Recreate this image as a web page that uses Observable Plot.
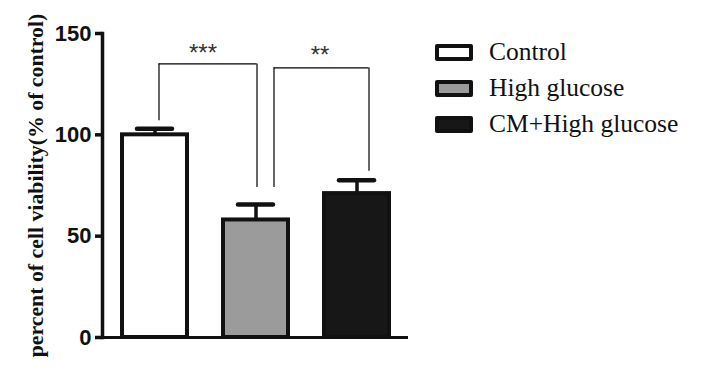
<!DOCTYPE html>
<html>
<head>
<meta charset="utf-8">
<script src="https://cdn.jsdelivr.net/npm/d3@7"></script>
<script src="https://cdn.jsdelivr.net/npm/@observablehq/plot@0.6"></script>
<style>
  html, body { margin: 0; padding: 0; background: #fff; }
  #wrap { position: relative; width: 701px; height: 380px; }
  #legend { position: absolute; left: 435px; top: 34px; font-family: "Liberation Serif", "Times New Roman", serif; font-size: 25.5px; color: #111; }
  .row { display: flex; align-items: center; height: 36px; }
  .sw { width: 38px; height: 17px; box-sizing: border-box; border: 4px solid #111; border-radius: 2px; margin-right: 16px; }
</style>
</head>
<body>
<div id="wrap"><div id="chart"></div><div id="legend"></div></div>
<script>
const groups = ["Control", "High glucose", "CM+High glucose"];
const means = [100, 58, 71];
const errors = [3, 7.6, 6.6];
const colors = ["#ffffff", "#9b9b9b", "#171717"];
const yTicks = [0, 50, 100, 150];
const yLabel = "percent of cell viability(% of control)";
const bracketFrom = ["Control", "High glucose"];
const bracketTo = ["High glucose", "CM+High glucose"];
const bracketTop = [135, 133];
const bracketLeftBottom = [107, 74];
const bracketRightBottom = [74, 82];
const bracketLabels = ["***", "**"];
const bracketLabelY = [140, 139];

// style-only offsets (pixels) for bracket ends and labels
const bracketStyle = [
  {left: 4, right: 1, label: 48},
  {left: 18, right: 12, label: 64}
];

const data = groups.map((g, i) => ({group: g, mean: means[i], err: errors[i], top: means[i] + errors[i]}));
const brackets = bracketFrom.map((f, i) => ({from: f, to: bracketTo[i], top: bracketTop[i], lb: bracketLeftBottom[i], rb: bracketRightBottom[i], label: bracketLabels[i], ly: bracketLabelY[i]}));

const bw = 65; // approx bandwidth for inset computations
const bracketMarks = brackets.flatMap((b, i) => {
  const s = bracketStyle[i];
  return [
    Plot.ruleX([b], {x: "from", y1: "lb", y2: "top", dx: s.left, stroke: "#000", strokeWidth: 1.2}),
    Plot.ruleX([b], {x: "to", y1: "rb", y2: "top", dx: s.right, stroke: "#000", strokeWidth: 1.2}),
    Plot.ruleY([b], {x1: "from", x2: "to", y: "top", insetLeft: bw / 2 + s.left, insetRight: bw / 2 - s.right, stroke: "#000", strokeWidth: 1.2}),
    Plot.text([b], {x: "from", y: "ly", text: "label", dx: s.label, fontSize: 24, fontFamily: "Liberation Sans, Arial, sans-serif", fill: "#333", lineAnchor: "middle"})
  ];
});

const plot = Plot.plot({
  width: 701,
  height: 380,
  marginLeft: 102,
  marginRight: 293,
  marginTop: 33,
  marginBottom: 43,
  x: {domain: groups, paddingInner: 0.36, paddingOuter: 0.187, axis: null},
  y: {domain: [0, 150], axis: null},
  color: {domain: groups, range: colors},
  style: {fontFamily: "Liberation Sans, Arial, sans-serif", color: "#111", background: "white"},
  marks: [
    Plot.barY(data, {x: "group", y: "mean", fill: "group", stroke: "#111", strokeWidth: 4}),
    Plot.ruleX(data, {x: "group", y1: "mean", y2: "top", stroke: "#111", strokeWidth: 3.5}),
    Plot.tickY(data, {x: "group", y: "top", stroke: "#111", strokeWidth: 4.5, strokeLinecap: "round", insetLeft: 15, insetRight: 15}),
    ...bracketMarks,
    Plot.ruleY([0], {stroke: "#111", strokeWidth: 3}),
    Plot.frame({anchor: "left", stroke: "#111", strokeWidth: 3.5}),
    Plot.axisY({ticks: yTicks, tickSize: 7, tickPadding: 4, strokeWidth: 3.5, fontSize: 22, fontWeight: "bold", label: null, fill: "#111"}),
    Plot.text([yLabel], {frameAnchor: "left", rotate: -90, dx: -66, text: d => d, textAnchor: "middle", fontSize: 21.8, fontWeight: "bold", fontFamily: "Liberation Serif, Times New Roman, serif", fill: "#111", lineAnchor: "middle"})
  ]
});
document.getElementById("chart").appendChild(plot);

const legend = document.getElementById("legend");
groups.forEach((g, i) => {
  const row = document.createElement("div");
  row.className = "row";
  const sw = document.createElement("div");
  sw.className = "sw";
  sw.style.background = colors[i];
  const t = document.createElement("span");
  t.textContent = g;
  row.appendChild(sw);
  row.appendChild(t);
  legend.appendChild(row);
});
</script>
</body>
</html>
